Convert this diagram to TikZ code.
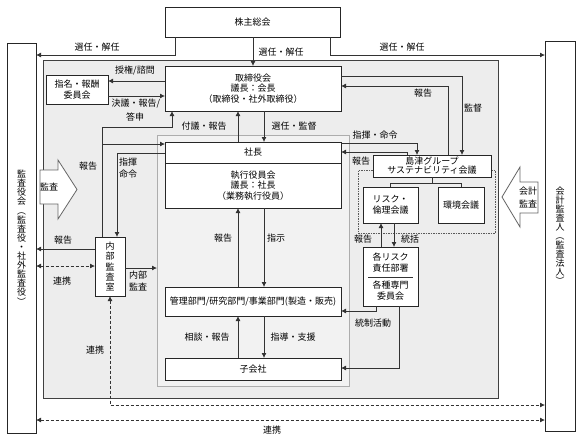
\documentclass[tikz,border=0pt]{standalone}
\usepackage{fontspec}
\usepackage{graphicx}
\setmainfont{Noto Sans CJK JP}
\usetikzlibrary{arrows.meta}
\newcommand{\vpL}{\rotatebox[origin=c]{-90}{（}}
\newcommand{\vpR}{\rotatebox[origin=c]{-90}{）}}
\tikzset{
  box/.style={draw=black!85, fill=white, line width=0.8pt, inner sep=0pt, outer sep=0pt, align=center, font=\fontsize{9}{10.5}\selectfont},
  conn/.style={draw=black!80, line width=0.8pt},
  arr/.style={conn, -{Latex[length=5pt,width=5pt]}},
  darr/.style={conn, {Latex[length=5pt,width=5pt]}-{Latex[length=5pt,width=5pt]}},
  dline/.style={dash pattern=on 3pt off 2pt},
  lbl/.style={font=\fontsize{9}{12}\selectfont, inner sep=0pt, align=center},
  region/.style={line width=0.8pt, inner sep=0pt, outer sep=0pt},
  blockarrow/.style={draw=black!60, fill=white, line width=0.8pt},
}
\begin{document}
\begin{tikzpicture}[x=1pt,y=-1pt]
\useasboundingbox (0,0) rectangle (585,440);
\fill[white] (0,0) rectangle (585,440);

% regions
\node[region, draw=black!75, fill=black!7, minimum width=455pt, minimum height=338pt] (outer) at (270.5,229) {};
\node[region, draw=black!32, fill=black!5, minimum width=192pt, minimum height=251pt] (inner) at (253,260.5) {};
\node[region, draw=black!65, dash pattern=on 1.5pt off 1pt, minimum width=137pt, minimum height=63pt] (group) at (426.5,201.5) {};

% boxes
\node[box, minimum width=175pt, minimum height=30pt] (kabu) at (252.5,22) {株主総会};
\node[box, minimum width=29pt, minimum height=390pt, font=\fontsize{9}{9.1}\selectfont] (kansa) at (21.5,238)
  {監\\査\\役\\会\\\vpL\\監\\査\\役\\・\\社\\外\\監\\査\\役\\\vpR};
\node[box, minimum width=30pt, minimum height=390pt, font=\fontsize{9}{9}\selectfont] (kaikei) at (560,236)
  {会\\計\\監\\査\\人\\\vpL\\監\\査\\法\\人\\\vpR};
\node[box, minimum width=176pt, minimum height=45pt] (tori) at (253,88.5) {取締役会\\議長：会長\\（取締役・社外取締役）};
\node[box, minimum width=62pt, minimum height=29pt] (shimei) at (77,89.5) {指名・報酬\\委員会};
\node[box, minimum width=176pt, minimum height=21pt] (shacho) at (253,152.5) {社長};
\node[box, minimum width=176pt, minimum height=45pt] (shikkou) at (253,185.5) {執行役員会\\議長：社長\\（業務執行役員）};
\node[box, minimum width=30pt, minimum height=59pt, font=\fontsize{9}{10.3}\selectfont] (naibu) at (110,266.5) {内\\部\\監\\査\\室};
\node[box, minimum width=176pt, minimum height=29pt] (kanri) at (253,301.5) {管理部門/研究部門/事業部門(製造・販売)};
\node[box, minimum width=176pt, minimum height=22pt] (kogaisha) at (253,369) {子会社};
\node[box, minimum width=118pt, minimum height=22pt] (sustain) at (432,166) {島津グループ\\[-1.5pt]サステナビリティ会議};
\node[box, minimum width=55pt, minimum height=36pt] (risk) at (390.5,205) {リスク・\\倫理会議};
\node[box, minimum width=46pt, minimum height=36pt] (kankyo) at (461,205) {環境会議};
\node[box, minimum width=55pt, minimum height=59pt, font=\fontsize{9}{11}\selectfont] (kakurisk) at (390.5,276.5) {各リスク\\責任部署\\[6pt]各種専門\\委員会};
\draw[conn] (368,277) -- (413,277);

% block arrows
\draw[blockarrow] (40,170) -- (58,170) -- (58,160) -- (77,189.5) -- (58,219) -- (58,204) -- (40,204) -- cycle;
\node[lbl] (kansaL) at (49,187) {監査};
\draw[blockarrow] (538,182) -- (520,182) -- (520,167) -- (502,197) -- (520,227) -- (520,213) -- (538,213) -- cycle;
\node[lbl, font=\fontsize{9}{13}\selectfont] (kaikeiL) at (528,197) {会計\\監査};

% coordinates
\coordinate (k1) at (175,55);
\coordinate (k2) at (330,55);
\coordinate (k3) at (253,0);
\coordinate (s1) at (0,81);
\coordinate (s2) at (0,96);
\coordinate (ia1) at (102,127);
\coordinate (ia2) at (172,127);
\coordinate (ia3) at (102,144);
\coordinate (cm) at (117,153);
\coordinate (up) at (238,0);
\coordinate (dn) at (264,0);
\coordinate (c462) at (462,76);
\coordinate (c448) at (448,86);
\coordinate (c417) at (417,143);
\coordinate (c407) at (407,152);
\coordinate (r1) at (0,249);
\coordinate (d1) at (0,266);
\coordinate (ia4) at (0,268);
\coordinate (d2) at (0,405);
\coordinate (d3) at (0,420);
\coordinate (t183) at (0,183);
\coordinate (ru) at (381,0);
\coordinate (rd) at (394,0);
\coordinate (c376) at (376,311);
\coordinate (c399) at (399,368);

% connectors
\draw[arr] (kabu.south -| k1) |- (kansa.east |- k1);
\draw[arr] (kabu.south -| k2) |- (kaikei.west |- k2);
\draw[arr] (kabu.south -| k3) -- (tori.north -| k3);
\draw[arr] (tori.west |- s1) -- (shimei.east |- s1);
\draw[arr] (shimei.east |- s2) -- (tori.west |- s2);

\draw[arr] (naibu.north -| ia1) -- (ia1) -- (ia2) -- (tori.south -| ia2);
\draw[arr] (ia3) -- (shacho.west |- ia3);
\draw[arr] (shacho.west |- cm) -| (naibu.north -| cm);

\draw[arr] (tori.south -| dn) -- (shacho.north -| dn);
\draw[arr] (shacho.north -| up) -- (tori.south -| up);
\draw[arr] (tori.east |- c462) -| (sustain.north -| c462);
\draw[arr] (sustain.north -| c448) |- (tori.east |- c448);
\draw[arr] (shacho.east |- c417) -| (sustain.north -| c417);
\draw[arr] (sustain.north -| c407) |- (shacho.east |- c407);

\draw[arr] (shikkou.south -| dn) -- (kanri.north -| dn);
\draw[arr] (kanri.north -| up) -- (shikkou.south -| up);
\draw[arr] (kanri.south -| dn) -- (kogaisha.north -| dn);
\draw[arr] (kogaisha.north -| up) -- (kanri.south -| up);

\draw[conn] (sustain.south) -- (sustain.south |- t183);
\draw[conn] (risk.north) -- (risk.north |- t183) -| (kankyo.north);
\draw[arr] (risk.south -| rd) -- (kakurisk.north -| rd);
\draw[arr] (kakurisk.north -| ru) -- (risk.south -| ru);
\draw[arr] (kakurisk.south -| c376) |- (kanri.east |- c376);
\draw[arr] (kakurisk.south -| c399) |- (kogaisha.east |- c399);

\draw[arr] (naibu.west |- r1) -- (kansa.east |- r1);
\draw[darr, dline] (kansa.east |- d1) -- (naibu.west |- d1);
\draw[arr] (naibu.east |- ia4) -- (inner.west |- ia4);
\draw[darr, dline] (naibu.south) -- (naibu.south |- d2) -- (kaikei.west |- d2);
\draw[darr, dline] (kansa.east |- d3) -- (kaikei.west |- d3);

% labels
\node[lbl] (l1) at (97,47) {選任・解任};
\node[lbl] (l2) at (281,52) {選任・解任};
\node[lbl] (l3) at (402,47) {選任・解任};
\node[lbl] (l4) at (135,70) {授権/諮問};
\node[lbl] (l5) at (136,104) {決議・報告/};
\node[lbl] (l6) at (135,117) {答申};
\node[lbl] (l7) at (204,126) {付議・報告};
\node[lbl] (l8) at (294,126) {選任・監督};
\node[lbl] (l9) at (423,93) {報告};
\node[lbl] (l10) at (473,108) {監督};
\node[lbl] (l11) at (375,135) {指揮・命令};
\node[lbl] (l12) at (361,161) {報告};
\node[lbl] (l13) at (88,166) {報告};
\node[lbl] (l14) at (128,162) {指揮};
\node[lbl] (l15) at (128,174) {命令};
\node[lbl] (l16) at (63,240) {報告};
\node[lbl] (l17) at (62,281) {連携};
\node[lbl] (l18) at (138,275) {内部};
\node[lbl] (l19) at (138,287) {監査};
\node[lbl] (l20) at (95,350) {連携};
\node[lbl] (l21) at (272,430) {連携};
\node[lbl] (l22) at (223,238) {報告};
\node[lbl] (l23) at (276,238) {指示};
\node[lbl] (l24) at (207,337) {相談・報告};
\node[lbl] (l25) at (293,337) {指導・支援};
\node[lbl] (l26) at (363,239) {報告};
\node[lbl] (l27) at (410,239) {統括};
\node[lbl] (l28) at (373,323) {統制活動};
\end{tikzpicture}
\end{document}
